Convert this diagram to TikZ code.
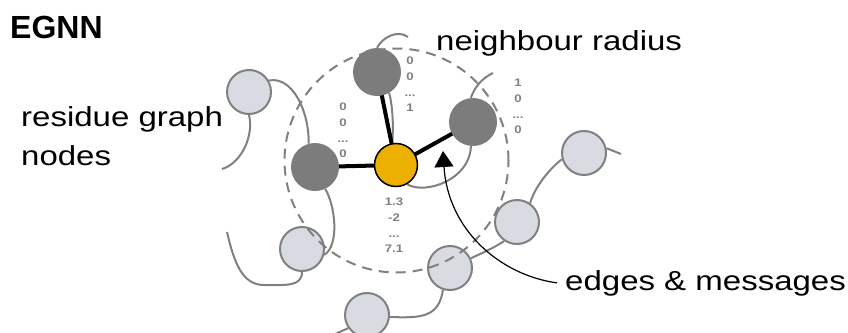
\documentclass[tikz,border=0pt]{standalone}
\usepackage{fontspec}
\setmainfont{Liberation Sans}
\newfontfamily\wfont[FakeStretch=1.2]{Liberation Sans}
\usetikzlibrary{arrows.meta}
\definecolor{chain}{RGB}{128,128,128}
\definecolor{lightfill}{RGB}{217,219,227}
\definecolor{darkfill}{RGB}{124,124,124}
\definecolor{gold}{RGB}{236,177,0}
\definecolor{lblgray}{RGB}{128,128,128}
\pgfdeclarelayer{background}
\pgfdeclarelayer{light}
\pgfdeclarelayer{mid}
\pgfsetlayers{background,light,mid,main}
\begin{document}
\begin{tikzpicture}[x=1pt,y=-1pt,
  lightres/.style={circle, draw=chain, line width=2pt, fill=lightfill, minimum size=44pt, inner sep=0pt},
  darkres/.style={circle, fill=darkfill, minimum size=48pt, inner sep=0pt},
  centre/.style={circle, draw=black, line width=1.5pt, fill=gold, minimum size=43pt, inner sep=0pt},
  backbone/.style={draw=chain, line width=2pt},
  bond/.style={draw=black, line width=4pt},
  radiusc/.style={circle, draw=chain, line width=2pt, dash pattern=on 10pt off 7pt, minimum size=224pt, inner sep=0pt},
  biglabel/.style={font=\wfont\fontsize{27.5}{39}\selectfont, inner sep=0pt},
  vec/.style={font=\wfont\bfseries\fontsize{11}{15.7}\selectfont, text=lblgray, align=center, inner sep=0pt, anchor=north},
]
\useasboundingbox (0,0) rectangle (848,332);

% light residues
\begin{pgfonlayer}{light}
\node[lightres] (L1) at (249,92) {};
\node[lightres] (L2) at (302,249) {};
\node[lightres] (R1) at (584,153) {};
\node[lightres] (R2) at (517,222) {};
\node[lightres] (R3) at (450,268) {};
\node[lightres] (R4) at (367,315) {};
\end{pgfonlayer}

% neighbourhood residues
\node[darkres] (Dt) at (377,72) {};
\node[darkres] (Dr) at (473,122) {};
\node[darkres] (D1) at (315,167) {};
\node[centre] (C) at (396,165) {};

% dashed radius and bonds
\begin{pgfonlayer}{mid}
\node[radiusc] (nb) at (396.5,160.5) {};
\draw[bond] (C.center) -- (Dt.center);
\draw[bond] (C.center) -- (Dr.center);
\draw[bond] (C.center) -- (D1.center);
\end{pgfonlayer}

% free chain ends
\coordinate (e1) at (222,169);
\coordinate (e2) at (227,232);
\coordinate (e3) at (408,37);
\coordinate (e4) at (493,73);
\coordinate (e5) at (621,154);
\coordinate (e6) at (335,334);

% backbone
\begin{pgfonlayer}{background}
\draw[backbone] (e1) .. controls (242,163) and (254,135) .. (L1.south);
\draw[backbone] (L1.30) .. controls (292,76) and (309,110) .. (D1.105);
\draw[backbone] (D1.-65) .. controls (335,205) and (340,245) .. (L2.-15);
\draw[backbone] (L2.south) .. controls (302,287) and (285,285) .. (264,285)
                .. controls (242,285) and (234,262) .. (e2);
\draw[backbone] (Dt.north) .. controls (382,38) and (397,29) .. (e3);
\draw[backbone] (Dt.-60) .. controls (392,102) and (394,125) .. (C.100);
\draw[backbone] (C.-60) .. controls (425,195) and (470,180) .. (Dr.-95);
\draw[backbone] (Dr.95) .. controls (474,88) and (482,78) .. (e4);
\draw[backbone] (R1.12) -- (e5);
\draw[backbone] (R1.196) .. controls (550,168) and (534,188) .. (R2.55);
\draw[backbone] (R2.236) .. controls (492,249) and (482,253) .. (R3.25);
\draw[backbone] (R3.252) .. controls (439,318) and (420,318) .. (R4.-5);
\draw[backbone] (R4.215) -- (e6);
\end{pgfonlayer}

% vectors
\node[vec] (vt) at (410,57) {0\\0\\...\\1};
\node[vec] (vr) at (518,79) {1\\0\\...\\0};
\node[vec] (vl) at (343,103) {0\\0\\...\\0};
\node[vec] (vc) at (394,198) {1.3\\-2\\...\\7.1};

% texts
\node[font=\bfseries\fontsize{32}{38}\selectfont, anchor=base west, inner sep=0pt] (title) at (10,38) {EGNN};
\node[biglabel, anchor=base west] (nbr) at (436,50) {neighbour radius};
\node[biglabel, anchor=base west] (res1) at (21,126) {residue graph};
\node[biglabel, anchor=base west] (res2) at (21,165) {nodes};
\node[biglabel, anchor=base west] (msg) at (565,290) {edges \& messages};

% arrow
\coordinate (tip) at (443,151);
\draw[line width=1.2pt, -{Triangle[length=16pt,width=19pt]}]
  ([xshift=-8pt]msg.west) .. controls (500,275) and (448,230) .. (tip);
\end{tikzpicture}
\end{document}
